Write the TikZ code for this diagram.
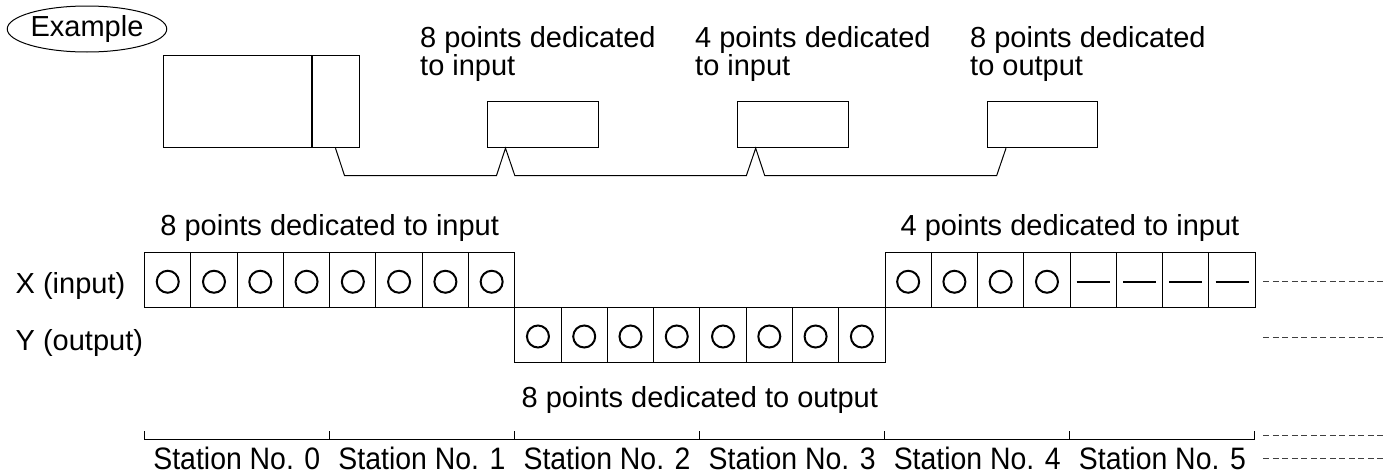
\documentclass[tikz,border=0pt]{standalone}
\usepackage{graphicx}
\usepackage{fontspec}
\setmainfont{Liberation Sans}
\usetikzlibrary{shapes.geometric,calc}
\begin{document}
\begin{tikzpicture}[x=1pt,y=-1pt,
  lbl/.style={font=\fontsize{29}{28}\selectfont, inner sep=0pt},
  box/.style={draw, line width=1pt, inner sep=0pt},
  cell/.style={draw, line width=1pt, inner sep=0pt, minimum width=46.27pt, minimum height=55.5pt},
  sym/.style={line width=2pt},
  wire/.style={line width=1pt},
  cont/.style={line width=0.8pt, black!75, dash pattern=on 6pt off 3.5pt}]
\useasboundingbox (0,0) rectangle (1387,474);

% Example oval
\node[draw, ellipse, line width=1pt, minimum width=150pt, minimum height=46pt, inner sep=0pt,
      font=\fontsize{29}{28}\selectfont] (ex) at (87,29) {Example};

% master unit and remote units
\node[box, minimum width=148.7pt, minimum height=92.7pt] (cpuA) at (237.35,101.35) {};
\node[box, minimum width=46.3pt, minimum height=92.7pt, anchor=west] (cpuB) at (cpuA.east) {};
\node[box, minimum width=110.6pt, minimum height=46pt] (m1) at (543,124.7) {};
\node[box, minimum width=110.6pt, minimum height=46pt] (m2) at (792.8,124.7) {};
\node[box, minimum width=110.6pt, minimum height=46pt] (m3) at (1042.5,124.7) {};

\node[lbl, anchor=base west, align=left] (t1) at (420,75) {8 points dedicated\\to input};
\node[lbl, anchor=base west, align=left] (t2) at (695,75) {4 points dedicated\\to input};
\node[lbl, anchor=base west, align=left] (t3) at (970,75) {8 points dedicated\\to output};

% link cable
\draw[wire] ($(cpuB.south west)+(23.3,0)$) -- ++(9,27.3)
  -- ($(m1.south west)+(9.3,27.3)$) -- ($(m1.south west)+(18.3,0)$) -- ($(m1.south west)+(27.6,27.3)$)
  -- ($(m2.south west)+(9.4,27.3)$) -- ($(m2.south west)+(18.7,0)$) -- ($(m2.south west)+(27.7,27.3)$)
  -- ($(m3.south west)+(10,27.3)$) -- ($(m3.south west)+(19.3,0)$);

% row labels
\node[lbl, anchor=base west] (xl) at (15.5,293) {X (input)};
\node[lbl, anchor=base west] (yl) at (15.5,350.5) {Y (output)};
\node[lbl, anchor=base] (in8) at (329.7,235) {8 points dedicated to input};
\node[lbl, anchor=base] (in4) at (1070,235) {4 points dedicated to input};
\node[lbl, anchor=base] (out8) at (699.8,407) {8 points dedicated to output};

% cells
\foreach \i in {0,...,7} {
  \node[cell] (xa\i) at ({144.6+46.275*(\i+0.5)},279.75) {};
  \draw[sym] ($(xa\i.center)+(0,2)$) circle[radius=11];
  \node[cell] (ya\i) at ({514.8+46.275*(\i+0.5)},335) {};
  \draw[sym] ($(ya\i.center)+(0,1.5)$) circle[radius=11];
  \node[cell] (xb\i) at ({885+46.275*(\i+0.5)},279.75) {};
}
\foreach \i in {0,...,3} {
  \draw[sym] ($(xb\i.center)+(0,2)$) circle[radius=11];
}
\foreach \i in {4,...,7} {
  \draw[sym, line width=1.6pt] ($(xb\i.center)+(-16.5,2)$) -- ++(33,0);
}

% continuation lines
\coordinate (cx1) at (1263.3,281);   \coordinate (cx2) at (1387,281);
\coordinate (cy1) at (1263.3,337.7); \coordinate (cy2) at (1387,337.7);
\coordinate (cr1) at (1263.3,435);   \coordinate (cr2) at (1387,435);
\coordinate (cs1) at (1263.3,458.3); \coordinate (cs2) at (1387,458.3);
\draw[cont] (cx1) -- (cx2);
\draw[cont] (cy1) -- (cy2);
\draw[cont] (cr1) -- (cr2);
\draw[cont] (cs1) -- (cs2);

% station ruler
\foreach \k in {0,...,6} {
  \coordinate (r\k) at ({144.3+185.1*\k},439.3);
}
\draw[line width=1pt] (r0) -- (r6);
\foreach \k in {0,...,6} {
  \draw[line width=1pt] (r\k) -- ++(0,-8.6);
}
\foreach \k in {0,...,5} {
  \node[lbl, anchor=base] (s\k) at ({144.3+185.1*(\k+0.5)},469) {\scalebox{0.98}[1.07]{Station No. \k}};
}
\end{tikzpicture}
\end{document}
